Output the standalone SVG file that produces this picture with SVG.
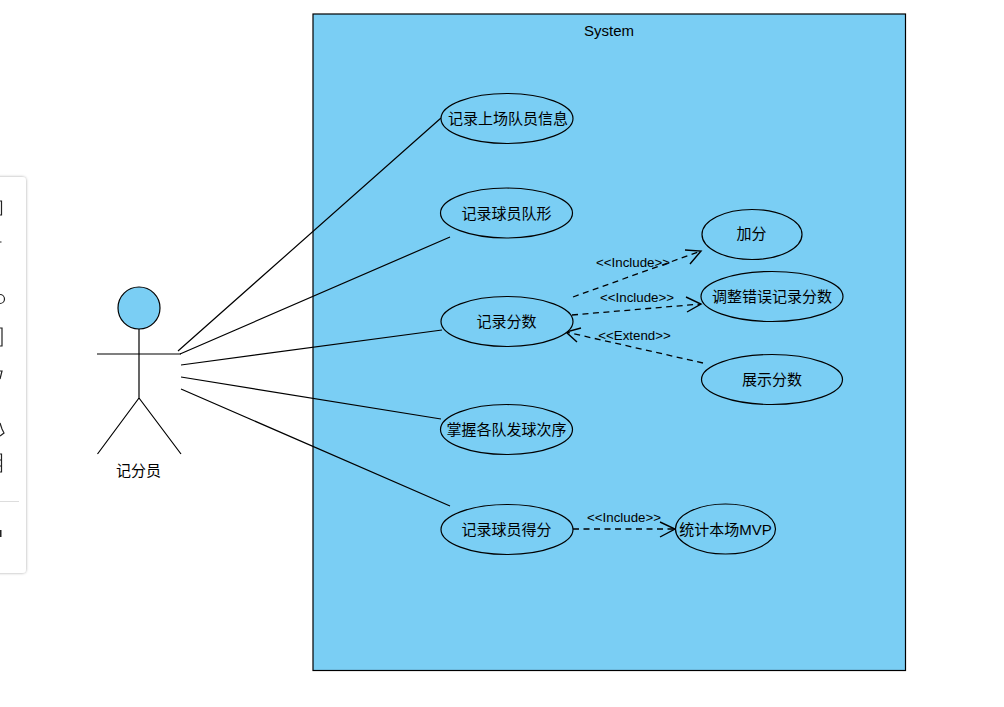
<svg xmlns="http://www.w3.org/2000/svg" width="1004" height="707" viewBox="0 0 1004 707">
<style>
text{font-family:"Liberation Sans","Noto Sans CJK SC",sans-serif;font-size:15px;fill:#000;text-anchor:middle}
.lbl{font-size:13.300px}
.u{fill:#7acef4;stroke:#000;stroke-width:1.2}
.a{fill:none;stroke:#000;stroke-width:1.2}
.d{fill:none;stroke:#000;stroke-width:1.3;stroke-dasharray:6 4.500}
.h{fill:none;stroke:#000;stroke-width:1.4}
.g{fill:none;stroke:#222;stroke-width:1.2}
</style>
<defs><filter id="sh" x="-20%" y="-5%" width="140%" height="110%"><feDropShadow dx="0" dy="0" stdDeviation="1.8" flood-color="#000" flood-opacity=".35"/></filter></defs>
<rect width="1004" height="707" fill="#fff"/>
<g id="toolbar">
<rect x="-20" y="177" width="46" height="396" rx="4" fill="#fff" filter="url(#sh)"/>
<path class="g" d="M0 201H1.500V215H0M0 242H1.500M0 294.500A4 4 0 0 1 0 303.500M0 328H2V346H0M0 371H2L0 379M0 423L2 429L4 433L0 436M0 454H1.500V472H0M0 460H1.500M0 466H1.500"/>
<line x1="0" y1="501.500" x2="19" y2="501.500" stroke="#ddd"/>
<rect x="0" y="530" width="1.500" height="7" fill="#222"/>
</g>
<g id="system"><rect class="u" x="313" y="14" width="592.500" height="656.500"/><text x="609" y="36">System</text></g>
<g id="actor">
<circle class="u" cx="139" cy="308" r="21"/>
<path class="a" d="M139 329V398M97 354H181M139 398L97.500 454M139 398L181 454" stroke="#333"/>
<text x="138.500" y="476">记分员</text>
</g>
<g id="connectors">
<path class="a" d="M178 351L441 118M180 354L450 237M181 365L442 330M181 377L441 419M181 389L450 506"/>
<path class="d" d="M573 297L701 251"/>
<path class="h" d="M685 250L701 251L690 264"/>
<path class="d" d="M572 315L701 304"/>
<path class="h" d="M686 297L701 304L687 312"/>
<path class="d" d="M703 363L566 332"/>
<path class="h" d="M581 328L566 332L577 342"/>
<path class="d" d="M573 529L675 529"/>
<path class="h" d="M660 522L675 529L660 537"/>
<text class="lbl" x="633" y="266.500">&lt;&lt;Include&gt;&gt;</text>
<text class="lbl" x="637" y="301.500">&lt;&lt;Include&gt;&gt;</text>
<text class="lbl" x="634.500" y="339.500">&lt;&lt;Extend&gt;&gt;</text>
<text class="lbl" x="624" y="521.500">&lt;&lt;Include&gt;&gt;</text>
</g>
<g id="u1"><ellipse class="u" cx="507" cy="118.500" rx="66" ry="25"/><text x="508" y="124">记录上场队员信息</text></g>
<g id="u2"><ellipse class="u" cx="506.500" cy="213" rx="66" ry="25"/><text x="506.500" y="219">记录球员队形</text></g>
<g id="u3"><ellipse class="u" cx="507" cy="321.500" rx="66" ry="25"/><text x="506.500" y="327">记录分数</text></g>
<g id="u4"><ellipse class="u" cx="506.500" cy="429.500" rx="66" ry="25"/><text x="506.500" y="435">掌握各队发球次序</text></g>
<g id="u5"><ellipse class="u" cx="507" cy="529.500" rx="66" ry="25"/><text x="506.500" y="535">记录球员得分</text></g>
<g id="u6"><ellipse class="u" cx="752" cy="234.500" rx="50" ry="25"/><text x="751.500" y="239">加分</text></g>
<g id="u7"><ellipse class="u" cx="772" cy="296.500" rx="71" ry="25"/><text x="772" y="302">调整错误记录分数</text></g>
<g id="u8"><ellipse class="u" cx="772" cy="379.500" rx="70.500" ry="25"/><text x="772" y="385">展示分数</text></g>
<g id="u9"><ellipse class="u" cx="725.500" cy="529" rx="50" ry="25"/><text x="725.500" y="535">统计本场MVP</text></g>
</svg>
